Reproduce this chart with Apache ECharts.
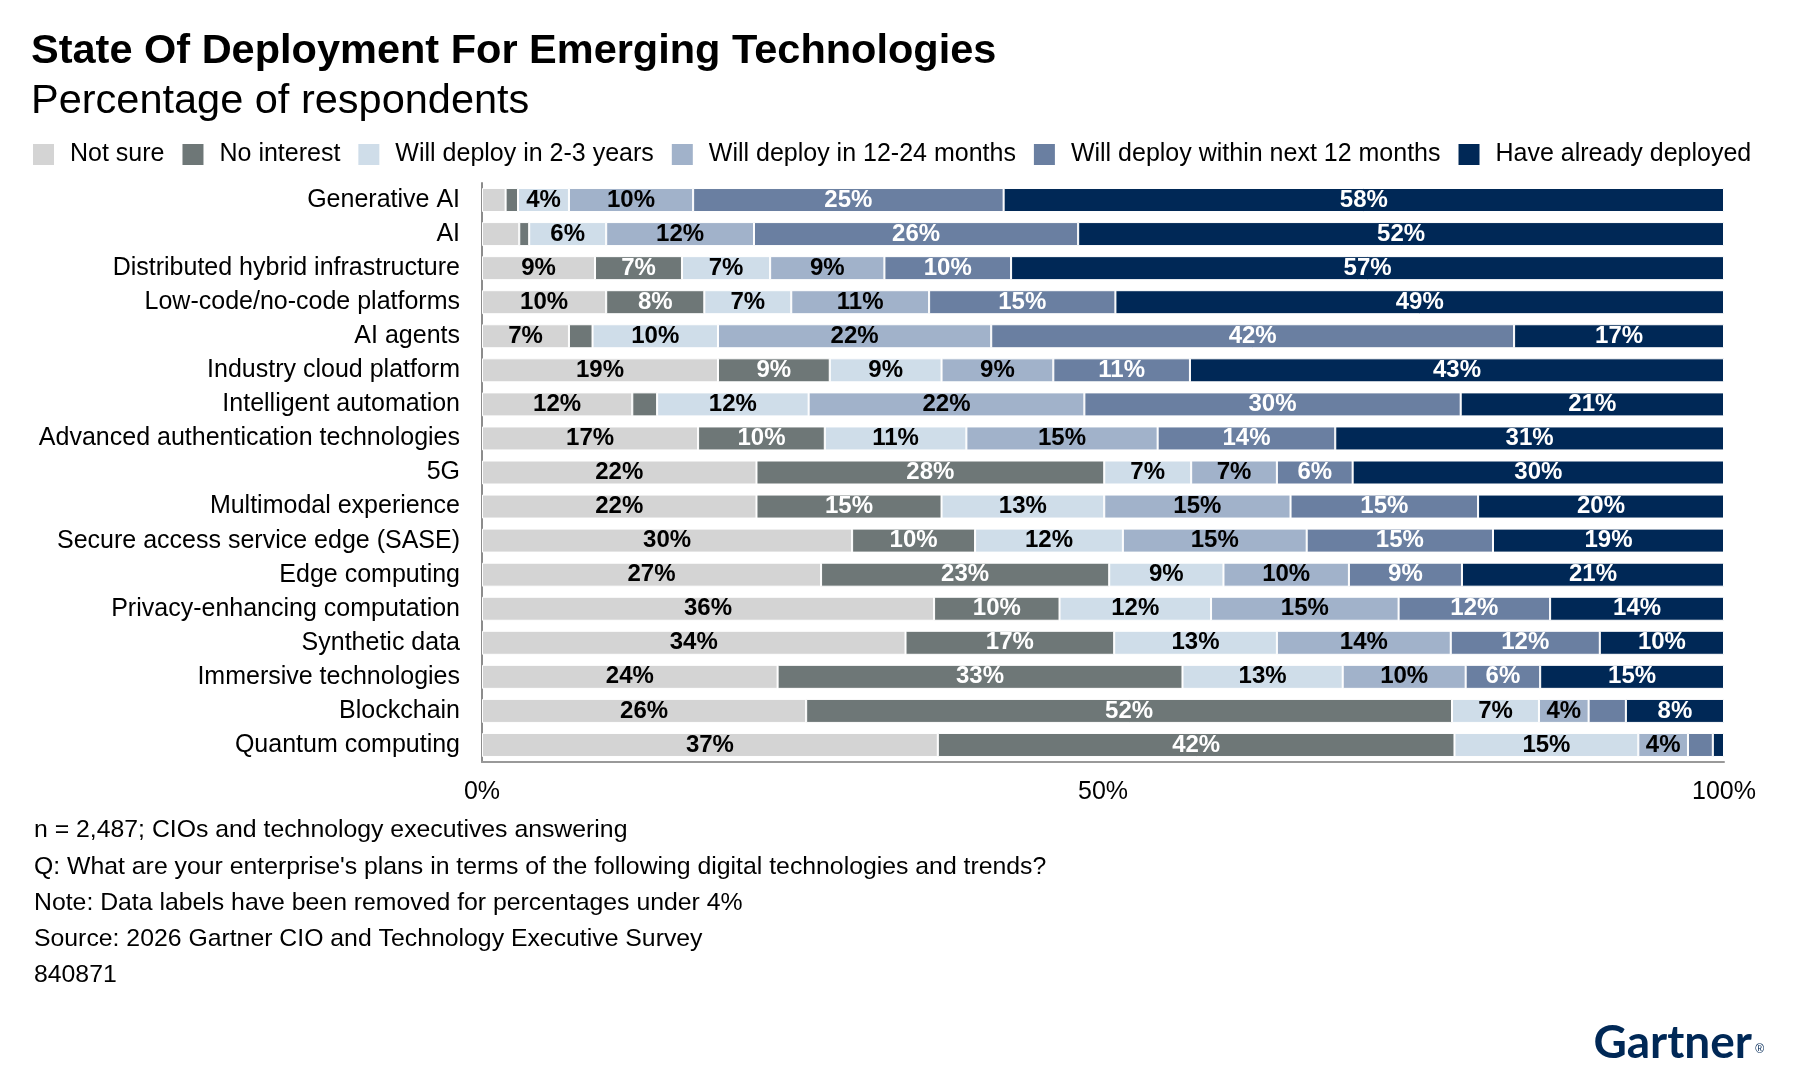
<!DOCTYPE html>
<html>
<head>
<meta charset="utf-8">
<script src="https://cdn.jsdelivr.net/npm/echarts@6/dist/echarts.min.js"></script>
<style>
  html, body { margin: 0; padding: 0; background: #fff; }
  #myChart { width: 1800px; height: 1079px; }
</style>
</head>
<body>
<div id="myChart"></div>
<script>
var FONT = '"Liberation Sans", Arial, sans-serif';

var categories = [
  'Generative AI', 'AI', 'Distributed hybrid infrastructure', 'Low-code/no-code platforms',
  'AI agents', 'Industry cloud platform', 'Intelligent automation',
  'Advanced authentication technologies', '5G', 'Multimodal experience',
  'Secure access service edge (SASE)', 'Edge computing', 'Privacy-enhancing computation',
  'Synthetic data', 'Immersive technologies', 'Blockchain', 'Quantum computing'
];

var seriesNames = ['Not sure', 'No interest', 'Will deploy in 2-3 years',
  'Will deploy in 12-24 months', 'Will deploy within next 12 months', 'Have already deployed'];

// labels show the rounded values
var notSure      = [1.9, 3.0, 9.1, 10.0, 7.0, 19, 12.1, 17.4, 22.1, 22.1, 29.8, 27.3, 36.4, 34.1, 23.8, 26.1, 36.7];
var noInterest   = [1.0, 0.8, 7.0, 7.9, 1.9, 9, 2.0, 10.2, 28.0, 14.9, 9.9, 23.2, 10.1, 16.8, 32.6, 52.0, 41.6];
var deploy2to3   = [4.1, 6.2, 7.1, 7.0, 10.1, 9, 12.2, 11.4, 7.0, 13.1, 11.9, 9.2, 12.2, 13.1, 12.9, 7.0, 14.8];
var deploy12to24 = [10.0, 11.9, 9.2, 11.1, 22.0, 9, 22.2, 15.4, 6.9, 15.0, 14.8, 10.1, 15.1, 14.0, 9.9, 4.0, 4.0];
var deploy12     = [25.0, 26.1, 10.2, 15.0, 42.1, 11, 30.3, 14.3, 6.1, 15.1, 15.0, 9.1, 12.2, 12.0, 6.0, 3.0, 2.0];
var deployed     = [58.0, 52.0, 57.4, 49.0, 16.9, 43, 21.2, 31.3, 29.9, 19.8, 18.6, 21.1, 14.0, 10.0, 14.8, 7.9, 0.9];

var colors = ['#d4d4d4', '#6e7777', '#cfdde9', '#a1b2ca', '#6a7fa1', '#002856'];
var labelColors = ['#000', '#fff', '#000', '#000', '#fff', '#fff'];

var footnotes = [
  'n = 2,487; CIOs and technology executives answering',
  'Q: What are your enterprise\'s plans in terms of the following digital technologies and trends?',
  'Note: Data labels have been removed for percentages under 4%',
  'Source: 2026 Gartner CIO and Technology Executive Survey',
  '840871'
];

var myChart = echarts.init(document.getElementById('myChart'));

var dataSets = [notSure, noInterest, deploy2to3, deploy12to24, deploy12, deployed];

var series = dataSets.map(function (d, i) {
  return {
    name: seriesNames[i],
    type: 'bar',
    stack: 'total',
    barWidth: 24,
    data: d,
    itemStyle: { color: colors[i], borderColor: '#fff', borderWidth: 1 },
    label: {
      show: true,
      position: 'inside',
      color: labelColors[i],
      fontFamily: FONT,
      fontWeight: 'bold',
      fontSize: 24,
      formatter: function (p) {
        var v = Math.round(p.value);
        return v < 4 ? '' : v + '%';   // under 4% gets no label
      }
    },
    emphasis: { disabled: true }
  };
});

var graphics = [
  { type: 'text', left: 31, top: 31, style: { text: 'State Of Deployment For Emerging Technologies', font: 'bold 41.5px ' + FONT, fill: '#000' } },
  { type: 'text', left: 31, top: 81, style: { text: 'Percentage of respondents', font: '41.5px ' + FONT, fill: '#000' } },
  { type: 'text', right: 48, top: 1020, style: { text: 'Gartner', font: 'bold 46px Lato, ' + FONT, fill: '#002856' } },
  { type: 'text', right: 36, top: 1044, style: { text: '®', font: '12px ' + FONT, fill: '#002856' } }
];
footnotes.forEach(function (t, i) {
  graphics.push({ type: 'text', left: 34, top: 818 + i * 36.2, style: { text: t, font: '24.8px ' + FONT, fill: '#000' } });
});

myChart.setOption({
  animation: false,
  textStyle: { fontFamily: FONT },
  legend: {
    left: 31,
    top: 142,
    padding: 0,
    itemWidth: 23,
    itemHeight: 23,
    itemGap: 16,
    icon: 'rect',
    selectedMode: false,
    textStyle: { fontSize: 25, color: '#000', fontFamily: FONT, padding: [0, 0, 0, 10] },
    data: seriesNames
  },
  grid: { left: 482, right: 76, top: 183, bottom: 317 },
  xAxis: {
    type: 'value',
    min: 0,
    max: 100,
    interval: 50,
    axisLine: { show: true, lineStyle: { color: '#999', width: 2 } },
    axisTick: { show: false },
    splitLine: { show: false },
    axisLabel: { formatter: '{value}%', fontSize: 25, color: '#000', margin: 18, fontFamily: FONT }
  },
  yAxis: {
    type: 'category',
    inverse: true,
    data: categories,
    axisLine: { show: true, lineStyle: { color: '#8c8c8c', width: 2 } },
    axisTick: { show: false },
    axisLabel: { fontSize: 25, color: '#000', margin: 22, fontFamily: FONT }
  },
  graphic: graphics,
  series: series
});
</script>
</body>
</html>
